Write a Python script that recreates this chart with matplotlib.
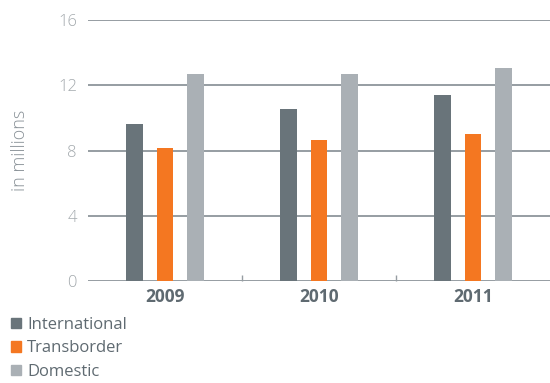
import matplotlib
matplotlib.use('Agg')
import matplotlib.pyplot as plt
from matplotlib.patches import Patch
import numpy as np

years = ['2009', '2010', '2011']
international = [9.6, 10.55, 11.4]
transborder = [8.15, 8.65, 9.0]
domestic = [12.7, 12.7, 13.05]

names = ['International', 'Transborder', 'Domestic']
colors = ['#69747a', '#f47721', '#aab0b5']

plt.rcParams['font.family'] = ['Open Sans', 'DejaVu Sans']

fig = plt.figure(figsize=(5.5, 3.83), dpi=100)
ax = fig.add_axes([0.16, 0.266, 0.84, 0.682])

x = np.arange(len(years))
w = 0.11
gap = 0.197
for i, vals in enumerate([international, transborder, domestic]):
    ax.bar(x + (i - 1) * gap, vals, width=w, color=colors[i], zorder=3)

ax.set_xlim(-0.5, 2.5)
ax.set_ylim(0, 16)
ax.set_yticks([0, 4, 8, 12, 16])
ax.yaxis.grid(True, color='#969da2', linewidth=1.4, zorder=1)
ax.set_axisbelow(True)
for s in ['top', 'right', 'left', 'bottom']:
    ax.spines[s].set_visible(False)

ax.set_xticks(x)
ax.set_xticklabels(years, fontsize=12.5, fontweight='bold', color='#5f6a71')
ax.set_xticks([0.5, 1.5], minor=True)
ax.tick_params(axis='x', which='major', length=0, pad=5)
ax.tick_params(axis='x', which='minor', length=4, direction='in', color='#969da2', width=1)
ax.tick_params(axis='y', length=0, labelsize=12, labelcolor='#a3a9ad', pad=8)
for t in ax.get_yticklabels():
    t.set_fontweight('light')
ax.set_ylabel('in millions', fontsize=13, color='#8a9298', labelpad=21, fontweight='light')

handles = [Patch(color=c, label=n) for c, n in zip(colors, names)]
leg = fig.legend(handles=handles, loc='upper left', bbox_to_anchor=(0.008, 0.19),
                 frameon=False, fontsize=12, handlelength=0.57, handleheight=0.57,
                 handletextpad=0.4, labelspacing=0.45, borderaxespad=0)
for t in leg.get_texts():
    t.set_color('#5f6a71')

fig.savefig('out.png', dpi=100)
